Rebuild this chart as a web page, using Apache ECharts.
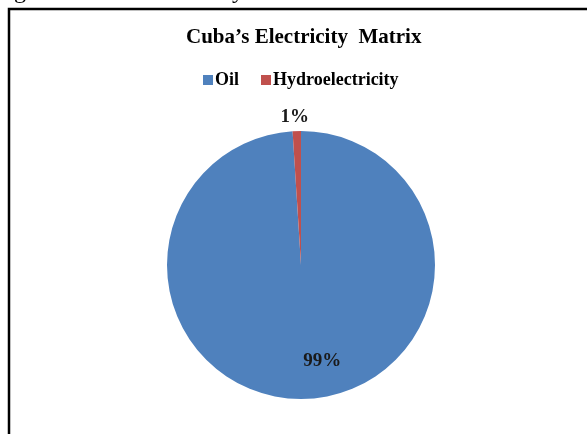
<!DOCTYPE html>
<html>
<head>
<meta charset="utf-8">
<script src="https://cdn.jsdelivr.net/npm/echarts@6/dist/echarts.min.js"></script>
<style>
  html, body { margin: 0; padding: 0; background: #fff; }
  #chart { width: 587px; height: 434px; }
</style>
</head>
<body>
<div id="chart"></div>
<script>
// Electricity generation mix for Cuba, share of total (%)
const categories = ['Oil', 'Hydroelectricity'];
const shares = [99, 1];
const colors = ['#4F81BD', '#C0504D'];

const SERIF = '"Liberation Serif", "Times New Roman", serif';

const chart = echarts.init(document.getElementById('chart'), null, { renderer: 'canvas' });

// per-slice label placement
const labelPlacement = [
  { position: 'inside', offset: [19, 26] },
  { position: 'inside', offset: [-4, -78] }
];

const pieData = categories.map((name, i) => ({
  name,
  value: shares[i],
  itemStyle: { color: colors[i] },
  label: labelPlacement[i]
}));

chart.setOption({
  animation: false,
  backgroundColor: '#ffffff',
  title: {
    text: 'Cuba\u2019s Electricity  Matrix',
    left: 181,
    top: 22,
    textStyle: { fontFamily: SERIF, fontWeight: 'bold', fontSize: 21, color: '#000' }
  },
  legend: {
    data: categories,
    left: 198,
    top: 66,
    icon: 'rect',
    itemWidth: 10,
    itemHeight: 10,
    itemGap: 22,
    textStyle: { fontFamily: SERIF, fontWeight: 'bold', fontSize: 18, color: '#000', padding: [0, 0, 0, -3] }
  },
  graphic: [
    {
      type: 'text',
      left: -6,
      top: -20,
      style: { text: 'Figure 5: Cuba Electricity Matrix', font: '24px ' + SERIF, fill: '#000' }
    },
    {
      type: 'rect',
      shape: { x: 9, y: 9, width: 620, height: 480 },
      style: { fill: 'none', stroke: '#000', lineWidth: 2.5 }
    }
  ],
  series: [{
    type: 'pie',
    center: [301, 265],
    radius: [0, 134],
    startAngle: 90,
    clockwise: true,
    data: pieData,
    itemStyle: { borderWidth: 0 },
    labelLine: { show: false },
    label: {
      show: true,
      formatter: '{c}%',
      fontFamily: SERIF,
      fontWeight: 'bold',
      fontSize: 19,
      color: '#1a1a1a'
    },
    emphasis: { disabled: true }
  }]
});
</script>
</body>
</html>
